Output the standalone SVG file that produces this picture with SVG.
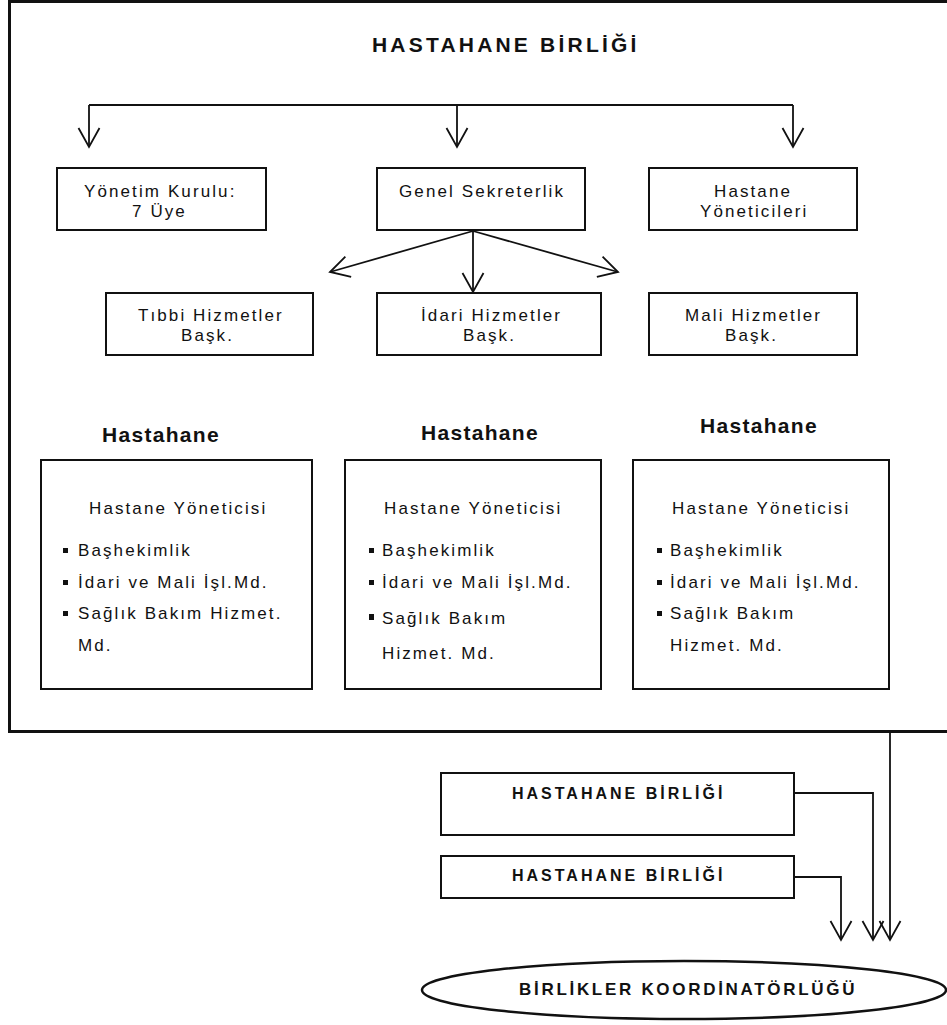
<svg xmlns="http://www.w3.org/2000/svg" width="947" height="1025" viewBox="0 0 947 1025">
<style>
.box{fill:#fff;stroke:#111;stroke-width:2}
.t{font-family:"Liberation Sans",Arial,sans-serif;font-size:17px;letter-spacing:2.1px;fill:#111}
.b{font-family:"Liberation Sans",Arial,sans-serif;font-weight:bold;fill:#111}
.ln{fill:none;stroke:#111;stroke-width:1.8}
.bul{fill:#111}
</style>
<defs>
<marker id="ah" markerUnits="userSpaceOnUse" markerWidth="26" markerHeight="26" viewBox="-22 -13 26 26" refX="0" refY="0" orient="auto" overflow="visible">
<path d="M-19,-10.5 L0,0 L-19,10.5" fill="none" stroke="#111" stroke-width="1.8"/>
</marker>
</defs>
<rect x="0" y="0" width="947" height="1025" fill="#fff"/>
<g id="frame">
<rect x="9.5" y="1.5" width="1000" height="730" fill="none" stroke="#111" stroke-width="3"/>
<text class="b" x="372" y="52" font-size="21" letter-spacing="3.2">HASTAHANE BİRLİĞİ</text>
</g>
<g id="connectors">
<path class="ln" d="M89,105 H793"/>
<path class="ln" d="M89,105 V147" marker-end="url(#ah)"/>
<path class="ln" d="M457,105 V147" marker-end="url(#ah)"/>
<path class="ln" d="M793,105 V147" marker-end="url(#ah)"/>
<path class="ln" d="M473,231 L330,272" marker-end="url(#ah)"/>
<path class="ln" d="M473,231 L618,272" marker-end="url(#ah)"/>
<path class="ln" d="M473,231 V292" marker-end="url(#ah)"/>
<path class="ln" d="M890,732 V940" marker-end="url(#ah)"/>
<path class="ln" d="M794,793 H873 V940" marker-end="url(#ah)"/>
<path class="ln" d="M794,877 H841 V940" marker-end="url(#ah)"/>
</g>
<g id="yonetim-kurulu">
<rect class="box" x="57" y="168" width="209" height="62"/>
<text class="t" x="84" y="197">Yönetim Kurulu:</text>
<text class="t" x="132" y="217">7 Üye</text>
</g>
<g id="genel-sekreterlik">
<rect class="box" x="377" y="168" width="208" height="62"/>
<text class="t" x="399" y="197">Genel Sekreterlik</text>
</g>
<g id="hastane-yoneticileri">
<rect class="box" x="649" y="168" width="208" height="62"/>
<text class="t" x="714" y="197">Hastane</text>
<text class="t" x="700" y="217">Yöneticileri</text>
</g>
<g id="tibbi">
<rect class="box" x="106" y="293" width="207" height="62"/>
<text class="t" x="138" y="321">Tıbbi Hizmetler</text>
<text class="t" x="181" y="341">Başk.</text>
</g>
<g id="idari">
<rect class="box" x="377" y="293" width="224" height="62"/>
<text class="t" x="421" y="321">İdari Hizmetler</text>
<text class="t" x="463" y="341">Başk.</text>
</g>
<g id="mali">
<rect class="box" x="649" y="293" width="208" height="62"/>
<text class="t" x="685" y="321">Mali Hizmetler</text>
<text class="t" x="725" y="341">Başk.</text>
</g>
<g id="hastahane-1">
<text class="b" x="102" y="442" font-size="21" letter-spacing="1.3">Hastahane</text>
<rect class="box" x="41" y="460" width="271" height="229"/>
<text class="t" x="89" y="514">Hastane Yöneticisi</text>
<rect class="bul" x="63" y="548" width="5" height="5"/>
<text class="t" x="78" y="556">Başhekimlik</text>
<rect class="bul" x="63" y="580" width="5" height="5"/>
<text class="t" x="78" y="588">İdari ve Mali İşl.Md.</text>
<rect class="bul" x="63" y="611" width="5" height="5"/>
<text class="t" x="78" y="619">Sağlık Bakım Hizmet.</text>
<text class="t" x="78" y="651">Md.</text>
</g>
<g id="hastahane-2">
<text class="b" x="421" y="440" font-size="21" letter-spacing="1.3">Hastahane</text>
<rect class="box" x="345" y="460" width="256" height="229"/>
<text class="t" x="384" y="514">Hastane Yöneticisi</text>
<rect class="bul" x="369" y="548" width="5" height="5"/>
<text class="t" x="382" y="556">Başhekimlik</text>
<rect class="bul" x="369" y="580" width="5" height="5"/>
<text class="t" x="382" y="588">İdari ve Mali İşl.Md.</text>
<rect class="bul" x="369" y="614" width="5" height="6"/>
<text class="t" x="382" y="624">Sağlık Bakım</text>
<text class="t" x="382" y="659">Hizmet. Md.</text>
</g>
<g id="hastahane-3">
<text class="b" x="700" y="433" font-size="21" letter-spacing="1.3">Hastahane</text>
<rect class="box" x="633" y="460" width="256" height="229"/>
<text class="t" x="672" y="514">Hastane Yöneticisi</text>
<rect class="bul" x="657" y="548" width="5" height="5"/>
<text class="t" x="670" y="556">Başhekimlik</text>
<rect class="bul" x="657" y="580" width="5" height="5"/>
<text class="t" x="670" y="588">İdari ve Mali İşl.Md.</text>
<rect class="bul" x="657" y="611" width="5" height="5"/>
<text class="t" x="670" y="619">Sağlık Bakım</text>
<text class="t" x="670" y="651">Hizmet. Md.</text>
</g>
<g id="birlik-a">
<rect class="box" x="441" y="773" width="353" height="62"/>
<text class="b" x="512" y="799" font-size="16" letter-spacing="3">HASTAHANE BİRLİĞİ</text>
</g>
<g id="birlik-b">
<rect class="box" x="441" y="856" width="353" height="42"/>
<text class="b" x="512" y="881" font-size="16" letter-spacing="3">HASTAHANE BİRLİĞİ</text>
</g>
<g id="koordinatorluk">
<ellipse cx="684" cy="990" rx="262" ry="29" fill="#fff" stroke="#111" stroke-width="2.5"/>
<text class="b" x="519" y="995" font-size="17" letter-spacing="2.7">BİRLİKLER KOORDİNATÖRLÜĞÜ</text>
</g>
</svg>
